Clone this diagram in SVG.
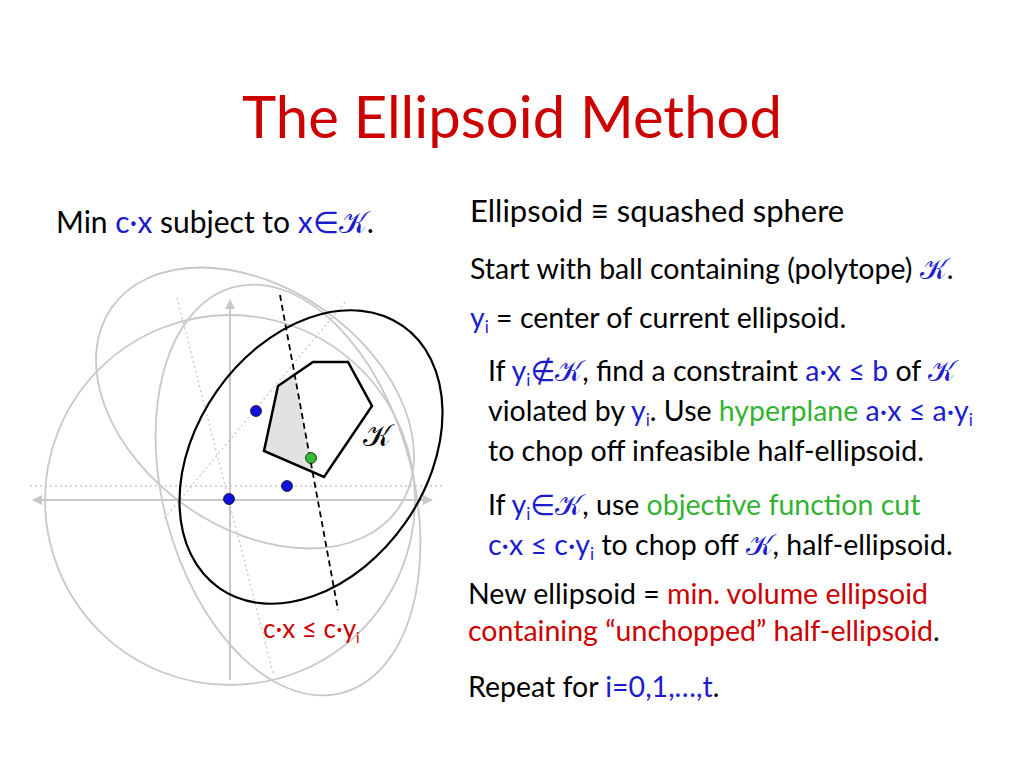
<svg xmlns="http://www.w3.org/2000/svg" width="1024" height="768" viewBox="0 0 1024 768">
<style>
.t{font-family:Lato,"Open Sans","DejaVu Sans",sans-serif;font-size:28.5px;fill:#000}
.b{fill:#1c1ccc}.g{fill:#33b233}.r{fill:#cc0000}
.k{font-family:"DejaVu Serif","Noto Sans",serif}
.s{font-size:17px}
.ax{stroke:#c8c8c8;stroke-width:2;fill:none}
.dot{stroke:#c8c8c8;stroke-width:1.3;stroke-dasharray:2 3;fill:none}
.ge{stroke:#c8c8c8;stroke-width:1.8;fill:none}
</style>
<defs>
<marker id="ar" viewBox="0 0 10 10" refX="9" refY="5" markerWidth="5" markerHeight="5" orient="auto-start-reverse"><path d="M0,0L10,5L0,10z" fill="#c8c8c8"/></marker>
</defs>
<rect width="1024" height="768" fill="#fff"/>
<text x="512" y="138" text-anchor="middle" class="t r" style="font-size:58px">The Ellipsoid Method</text>
<g id="figure">
<line class="ax" x1="33" y1="500" x2="432" y2="500" marker-start="url(#ar)" marker-end="url(#ar)"/>
<line class="ax" x1="230" y1="680" x2="230" y2="300" marker-end="url(#ar)"/>
<line class="dot" x1="30" y1="486" x2="445" y2="486"/>
<line class="dot" x1="177" y1="298" x2="273" y2="673"/>
<line class="dot" x1="345" y1="302" x2="163" y2="520"/>
<circle class="ge" cx="230" cy="500" r="185"/>
<ellipse class="ge" cx="255" cy="408" rx="175" ry="120" transform="rotate(35 255 408)"/>
<ellipse class="ge" cx="288" cy="490" rx="125" ry="210" transform="rotate(-15 288 490)"/>
<ellipse cx="311" cy="457" rx="160" ry="115" transform="rotate(-55 311 457)" fill="none" stroke="#000" stroke-width="2.2"/>
<polygon points="278,386 295,374 313,472 264,451" fill="#e2e2e2"/>
<polygon id="K" points="278,386 313,362 348,362 372,406 324,477 264,451" fill="none" stroke="#000" stroke-width="2.5" stroke-linejoin="miter"/>
<line x1="280" y1="295" x2="338" y2="610" stroke="#000" stroke-width="1.8" stroke-dasharray="6 4"/>
<circle cx="256" cy="411" r="5.5" fill="#1010dd" stroke="#000" stroke-width="0.7"/>
<circle cx="287" cy="486" r="5.5" fill="#1010dd" stroke="#000" stroke-width="0.7"/>
<circle cx="229" cy="499" r="5.5" fill="#1010dd" stroke="#000" stroke-width="0.7"/>
<circle cx="311" cy="458" r="5.5" fill="#33bb33" stroke="#000" stroke-width="0.7"/>
<text x="363" y="446" class="t k" style="font-size:30px">𝒦</text>
<text x="263" y="638" class="t r" style="font-size:26px">c·x ≤ c·y<tspan dy="5" style="font-size:15px">i</tspan></text>
</g>
<g id="text">
<text x="56" y="233" class="t" style="font-size:30px">Min <tspan class="b">c·x</tspan> subject to <tspan class="b">x∈<tspan class="k">𝒦</tspan></tspan>.</text>
<text x="470" y="222" class="t" style="font-size:31px">Ellipsoid ≡ squashed sphere</text>
<text x="470" y="279" class="t">Start with ball containing (polytope) <tspan class="b k">𝒦</tspan>.</text>
<text x="470" y="328" class="t"><tspan class="b">y<tspan dy="5" class="s">i</tspan></tspan><tspan dy="-5"> = center of current ellipsoid.</tspan></text>
<text x="488" y="381" class="t">If <tspan class="b">y<tspan dy="5" class="s">i</tspan><tspan dy="-5">∉</tspan><tspan class="k">𝒦</tspan></tspan>, find a constraint <tspan class="b">a·x ≤ b</tspan> of <tspan class="b k">𝒦</tspan></text>
<text x="488" y="421" class="t">violated by <tspan class="b">y<tspan dy="5" class="s">i</tspan></tspan><tspan dy="-5">. Use </tspan><tspan class="g">hyperplane</tspan> <tspan class="b">a·x ≤ a·y<tspan dy="5" class="s">i</tspan></tspan></text>
<text x="488" y="461" class="t">to chop off infeasible half-ellipsoid.</text>
<text x="488" y="515" class="t">If <tspan class="b">y<tspan dy="5" class="s">i</tspan><tspan dy="-5">∈</tspan><tspan class="k">𝒦</tspan></tspan>, use <tspan class="g">objective function cut</tspan></text>
<text x="488" y="555" class="t"><tspan class="b">c·x ≤ c·y<tspan dy="5" class="s">i</tspan></tspan><tspan dy="-5"> to chop off </tspan><tspan class="b k">𝒦</tspan>, half-ellipsoid.</text>
<text x="468" y="604" class="t">New ellipsoid = <tspan class="r">min. volume ellipsoid</tspan></text>
<text x="468" y="641" class="t"><tspan class="r">containing “unchopped” half-ellipsoid</tspan>.</text>
<text x="468" y="697" class="t">Repeat for <tspan class="b">i=0,1,…,t</tspan>.</text>
</g>
</svg>
